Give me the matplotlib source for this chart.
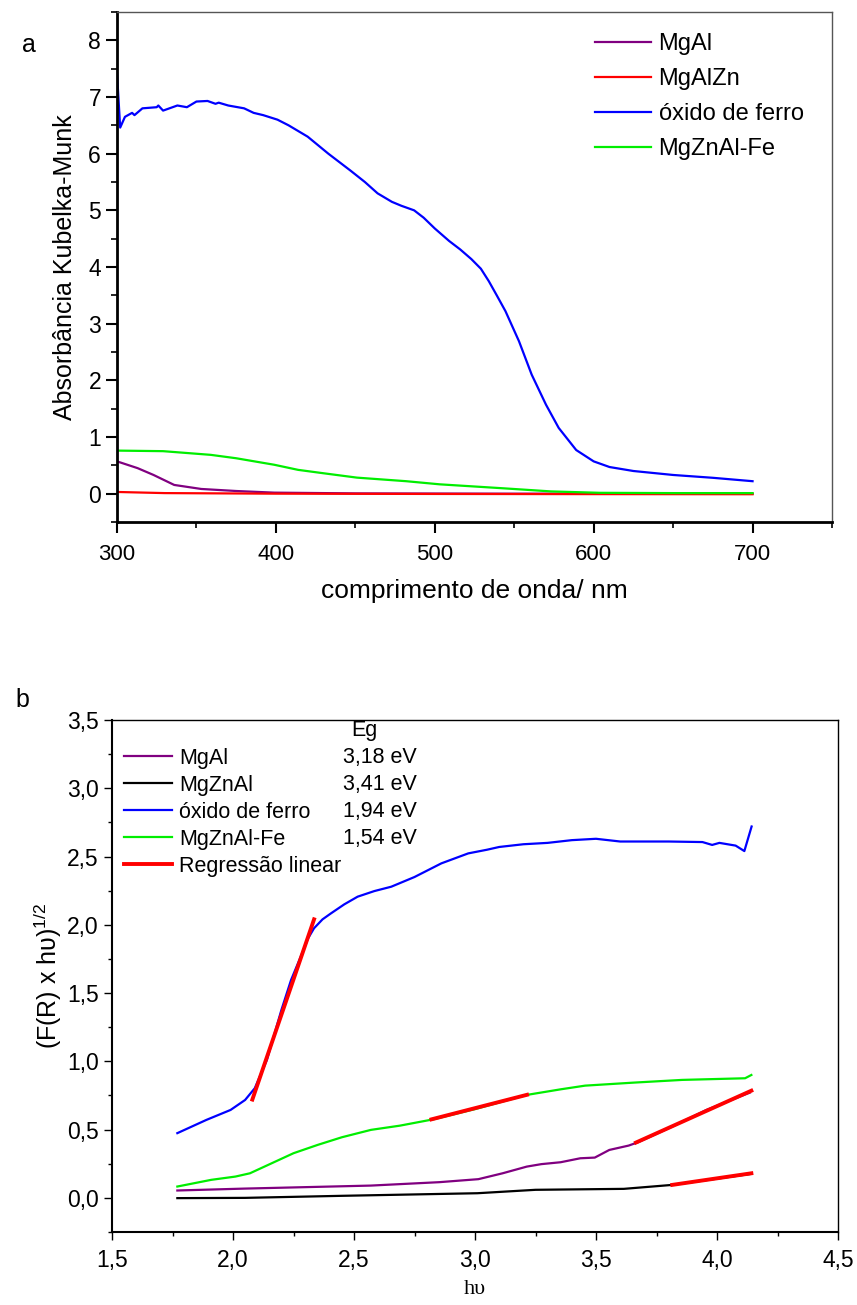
import matplotlib
matplotlib.use("Agg")
import matplotlib.pyplot as plt
from matplotlib.ticker import MultipleLocator, FuncFormatter

plt.rcParams['font.family'] = ['Liberation Sans', 'DejaVu Sans']
plt.rcParams['mathtext.default'] = 'regular'

# ---- panel a data (wavelength / nm, Kubelka-Munk absorbance) ----
wl_fe = [300, 302, 305, 309.5, 311, 316, 325, 326, 329, 335, 338, 344, 350, 357, 362, 364,
         370, 380, 386, 392, 401, 408, 420, 433, 447, 456, 464, 473, 479, 487, 493, 500,
         509, 516, 523, 529, 534, 539, 544.5, 553, 561, 570, 578, 589, 600, 610, 625, 650, 675, 700]
abs_fe = [7.42, 6.46, 6.65, 6.72, 6.68, 6.8, 6.82, 6.85, 6.76, 6.82, 6.85, 6.82, 6.92, 6.93, 6.88, 6.9,
          6.85, 6.8, 6.72, 6.68, 6.6, 6.5, 6.3, 6.0, 5.7, 5.5, 5.3, 5.15, 5.08, 5.0, 4.87, 4.68,
          4.46, 4.31, 4.14, 3.97, 3.75, 3.5, 3.22, 2.69, 2.1, 1.57, 1.16, 0.77, 0.57, 0.47, 0.4, 0.33, 0.28, 0.22]

wl_mgznalfe = [300, 329, 359, 375, 399, 414, 430, 451, 482, 503, 543, 573, 604, 650, 700]
abs_mgznalfe = [0.76, 0.75, 0.685, 0.625, 0.51, 0.42, 0.36, 0.283, 0.22, 0.165, 0.095, 0.04, 0.015, 0.01, 0.01]

wl_mgal = [300, 313, 323, 336, 353, 375, 399, 450, 550, 700]
abs_mgal = [0.57, 0.45, 0.33, 0.154, 0.083, 0.047, 0.018, 0.005, 0.0, 0.0]

wl_mgalzn = [300, 330, 400, 500, 600, 700]
abs_mgalzn = [0.03, 0.01, 0.0, -0.005, -0.008, -0.01]

# ---- panel b data (h nu / eV, (F(R) x h nu)^1/2) ----
hv_fe = [1.77, 1.89, 1.99, 2.05, 2.09, 2.14, 2.2, 2.24, 2.28, 2.31, 2.335, 2.37, 2.405, 2.46,
         2.515, 2.584, 2.654, 2.75, 2.861, 2.972, 3.05, 3.1, 3.2, 3.3, 3.4, 3.5, 3.55, 3.6, 3.7,
         3.8, 3.94, 3.98, 4.01, 4.077, 4.113, 4.143]
y_fe = [0.474, 0.571, 0.644, 0.717, 0.803, 1.01, 1.376, 1.596, 1.767, 1.9, 1.975, 2.04, 2.084, 2.15,
        2.206, 2.247, 2.279, 2.35, 2.45, 2.523, 2.55, 2.57, 2.59, 2.6, 2.62, 2.63, 2.62, 2.61, 2.61,
        2.61, 2.606, 2.585, 2.6, 2.58, 2.54, 2.72]

hv_mgznalfe = [1.77, 1.91, 2.01, 2.07, 2.13, 2.25, 2.35, 2.45, 2.57, 2.69, 2.83, 3.0, 3.214,
               3.354, 3.455, 3.655, 3.856, 4.116, 4.142]
y_mgznalfe = [0.083, 0.132, 0.156, 0.18, 0.229, 0.327, 0.388, 0.444, 0.498, 0.529, 0.576, 0.65, 0.754,
              0.795, 0.822, 0.844, 0.864, 0.876, 0.9]

hv_mgal = [1.77, 2.05, 2.57, 2.853, 3.014, 3.114, 3.214, 3.274, 3.354, 3.435, 3.495, 3.555,
           3.635, 3.675, 3.815, 3.956, 4.136]
y_mgal = [0.054, 0.068, 0.09, 0.115, 0.137, 0.18, 0.229, 0.247, 0.261, 0.29, 0.295, 0.351,
          0.383, 0.408, 0.522, 0.644, 0.771]

hv_mgznal = [1.77, 2.05, 2.45, 3.01, 3.25, 3.615, 3.815, 4.142]
y_mgznal = [-0.002, 0.0, 0.015, 0.034, 0.059, 0.066, 0.095, 0.176]

# linear regression segments (x pair, y pair)
fit_fe = ([2.08, 2.335], [0.72, 2.04])
fit_mgznalfe = ([2.82, 3.215], [0.575, 0.755])
fit_mgal = ([3.665, 4.142], [0.405, 0.785])
fit_mgznal = ([3.815, 4.142], [0.095, 0.18])

eg_labels = ["3,18 eV", "3,41 eV", "1,94 eV", "1,54 eV"]

purple = "#800080"

fig = plt.figure(figsize=(8.57, 13.05), dpi=100)

# ================= panel a =================
ax1 = fig.add_axes([117/857, 1-522/1305, 715/857, 510/1305])
ax1.plot(wl_mgal, abs_mgal, color=purple, lw=1.6, label="MgAl")
ax1.plot(wl_mgalzn, abs_mgalzn, color="red", lw=1.6, label="MgAlZn")
ax1.plot(wl_fe, abs_fe, color="blue", lw=1.6, label="óxido de ferro")
ax1.plot(wl_mgznalfe, abs_mgznalfe, color="#00ee00", lw=1.6, label="MgZnAl-Fe")
ax1.set_xlim(300, 750)
ax1.set_ylim(-0.5, 8.5)
ax1.xaxis.set_major_locator(MultipleLocator(100))
ax1.xaxis.set_minor_locator(MultipleLocator(50))
ax1.yaxis.set_major_locator(MultipleLocator(1))
ax1.yaxis.set_minor_locator(MultipleLocator(0.5))
ax1.tick_params(which="major", direction="out", length=8, width=1.5)
ax1.tick_params(which="minor", direction="out", length=4, width=1.2)
ax1.tick_params(axis="y", labelsize=16.5)
ax1.tick_params(axis="x", labelsize=16, pad=8)
for s in ["left", "bottom"]:
    ax1.spines[s].set_linewidth(2)
for s in ["top", "right"]:
    ax1.spines[s].set_linewidth(1)
    ax1.spines[s].set_color("#555555")
ax1.set_xlabel("comprimento de onda/ nm", fontsize=19, labelpad=10)
ax1.set_ylabel("Absorbância Kubelka-Munk", fontsize=18, labelpad=8)
ax1.legend(loc="upper left", bbox_to_anchor=(0.655, 0.977), frameon=False, fontsize=17,
           handlelength=2.4, handletextpad=0.3, labelspacing=0.55, borderaxespad=0)
fig.text(22/857, 1-45/1305, "a", fontsize=18, va="center", ha="left")

# ================= panel b =================
ax2 = fig.add_axes([112/857, 1-1232/1305, 726/857, 512/1305])
ax2.plot(hv_mgal, y_mgal, color=purple, lw=1.6, label="MgAl")
ax2.plot(hv_mgznal, y_mgznal, color="black", lw=1.6, label="MgZnAl")
ax2.plot(hv_fe, y_fe, color="blue", lw=1.6, label="óxido de ferro")
ax2.plot(hv_mgznalfe, y_mgznalfe, color="#00ee00", lw=1.6, label="MgZnAl-Fe")
ax2.plot(*fit_fe, color="red", lw=2.8, label="Regressão linear")
for fx, fy in [fit_mgznalfe, fit_mgal, fit_mgznal]:
    ax2.plot(fx, fy, color="red", lw=2.8)
ax2.set_xlim(1.5, 4.5)
ax2.set_ylim(-0.25, 3.5)
ax2.xaxis.set_major_locator(MultipleLocator(0.5))
ax2.xaxis.set_minor_locator(MultipleLocator(0.25))
ax2.yaxis.set_major_locator(MultipleLocator(0.5))
ax2.yaxis.set_minor_locator(MultipleLocator(0.25))
comma = FuncFormatter(lambda v, p: f"{v:.1f}".replace(".", ","))
ax2.xaxis.set_major_formatter(comma)
ax2.yaxis.set_major_formatter(comma)
ax2.tick_params(which="major", direction="out", length=6, width=1.0)
ax2.tick_params(which="minor", direction="out", length=3, width=1.0)
ax2.tick_params(axis="y", labelsize=16.5)
ax2.tick_params(axis="x", labelsize=16.5, pad=6)
for s in ["left", "bottom"]:
    ax2.spines[s].set_linewidth(1.5)
for s in ["top", "right"]:
    ax2.spines[s].set_linewidth(1)
ax2.set_xlabel("hυ", fontsize=16, family="Liberation Serif", labelpad=6)
ax2.set_ylabel("(F(R) x hυ)$^{1/2}$", fontsize=18, labelpad=2)
ax2.legend(loc="upper left", bbox_to_anchor=(0.005, 0.963), frameon=False, fontsize=15.5,
           handlelength=2.23, handletextpad=0.33, labelspacing=0.28, borderaxespad=0)
ax2.text(0.348, 0.98, "Eg", transform=ax2.transAxes, fontsize=15.5, ha="center", va="center")
for i, t in enumerate(eg_labels):
    ax2.text(0.42, 0.926 - i*0.0522, t, transform=ax2.transAxes, fontsize=15.5,
             ha="right", va="center")
fig.text(15/857, 1-700/1305, "b", fontsize=18, va="center", ha="left")

fig.savefig("out.png", dpi=100)
